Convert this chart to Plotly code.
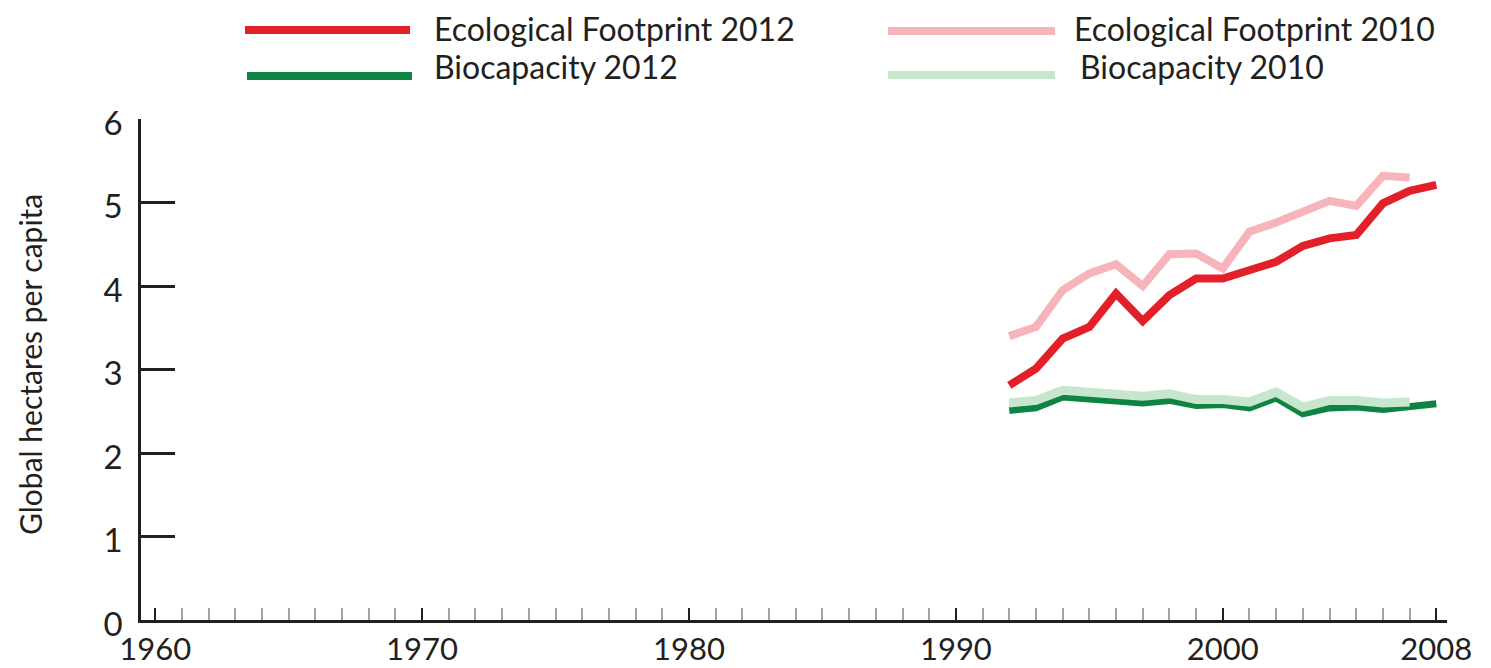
import plotly.graph_objects as go

years_2012 = list(range(1992, 2009))
years_2010 = list(range(1992, 2008))

ef_2012 = [2.81, 3.01, 3.37, 3.51, 3.91, 3.58, 3.89, 4.09, 4.09, 4.18, 4.29, 4.48, 4.57, 4.61, 4.99, 5.14, 5.21]
ef_2010 = [3.40, 3.51, 3.95, 4.15, 4.26, 4.00, 4.38, 4.39, 4.21, 4.65, 4.76, 4.89, 5.02, 4.96, 5.32, 5.30]
bc_2012 = [2.51, 2.54, 2.67, 2.64, 2.61, 2.60, 2.63, 2.57, 2.58, 2.54, 2.66, 2.47, 2.54, 2.55, 2.52, 2.55, 2.59]
bc_2010 = [2.60, 2.63, 2.75, 2.73, 2.69, 2.68, 2.71, 2.64, 2.64, 2.61, 2.73, 2.55, 2.63, 2.63, 2.60, 2.61]

x_tickvals = [1960, 1970, 1980, 1990, 2000, 2008]
x_ticktext = ["1960", "1970", "1980", "1990", "2000", "2008"]
y_tickvals = [0, 1, 2, 3, 4, 5, 6]

C_RED = "#E3202A"
C_PINK = "#F7B4BB"
C_DGREEN = "#0E8442"
C_LGREEN = "#C7E6CE"
C_TEXT = "#231F20"

FONT = "Lato"

# page body has an 8px default margin; compensate
OFF = 8
W, H = 1491 - OFF, 668 - OFF
L, T = 141 - OFF, 119 - OFF
R, B = 44, 48
PW, PH = W - L - R, H - T - B


def px(x):
    return (x - OFF - L) / PW


def py(y):
    return (H - B - (y - OFF)) / PH


fig = go.Figure()
fig.add_trace(go.Scatter(x=years_2012, y=ef_2012, mode="lines",
                         line=dict(color=C_RED, width=8), name="Ecological Footprint 2012"))
fig.add_trace(go.Scatter(x=years_2010, y=ef_2010, mode="lines",
                         line=dict(color=C_PINK, width=8), name="Ecological Footprint 2010"))
fig.add_trace(go.Scatter(x=years_2012, y=bc_2012, mode="lines",
                         line=dict(color=C_DGREEN, width=7), name="Biocapacity 2012"))
fig.add_trace(go.Scatter(x=years_2010, y=bc_2010, mode="lines",
                         line=dict(color=C_LGREEN, width=9), name="Biocapacity 2010"))

legend_items = [
    (245, 410, 30, C_RED, 432, 28, "Ecological Footprint 2012"),
    (247, 412, 76, C_DGREEN, 432, 67, "Biocapacity 2012"),
    (888, 1055, 31, C_PINK, 1072, 28, "Ecological Footprint 2010"),
    (888, 1055, 75, C_LGREEN, 1078, 67, "Biocapacity 2010"),
]
for x0, x1, ly, col, tx, ty, txt in legend_items:
    fig.add_shape(type="line", xref="paper", yref="paper",
                  x0=px(x0), x1=px(x1), y0=py(ly), y1=py(ly),
                  line=dict(color=col, width=8))
    fig.add_annotation(text=txt, xref="paper", yref="paper", x=px(tx), y=py(ty),
                       xanchor="left", yanchor="middle", showarrow=False,
                       font=dict(family=FONT, size=32, color=C_TEXT))

fig.add_annotation(text="Global hectares per capita", xref="paper", yref="paper",
                   x=px(30), y=py(365), textangle=-90, showarrow=False,
                   xanchor="center", yanchor="middle",
                   font=dict(family=FONT, size=30, color=C_TEXT))

fig.update_layout(
    width=W, height=H,
    margin=dict(l=L, r=R, t=T, b=B, pad=0, autoexpand=False),
    paper_bgcolor="white", plot_bgcolor="white",
    showlegend=False,
    font=dict(family=FONT, color=C_TEXT),
)
fig.update_xaxes(
    range=[1959.47, 2008.4], tickvals=x_tickvals, ticktext=x_ticktext,
    ticks="inside", ticklen=12, tickwidth=2, tickcolor=C_TEXT,
    showline=True, linecolor=C_TEXT, linewidth=2.5,
    showgrid=False, zeroline=False, automargin=False,
    tickfont=dict(family=FONT, size=31, color=C_TEXT),
    ticklabelstandoff=0,
    minor=dict(dtick=1, tick0=1960, ticks="inside", ticklen=12, tickwidth=2, tickcolor="#A3A3A3"),
)
fig.update_yaxes(
    range=[0, 6], tickvals=y_tickvals,
    ticks="inside", ticklen=34, tickwidth=2.5, tickcolor=C_TEXT,
    showline=True, linecolor=C_TEXT, linewidth=2.5,
    showgrid=False, zeroline=False, automargin=False,
    tickfont=dict(family=FONT, size=33, color=C_TEXT),
    ticklabelstandoff=9, ticklabelshift=4,
)

fig.write_html("out.html")
